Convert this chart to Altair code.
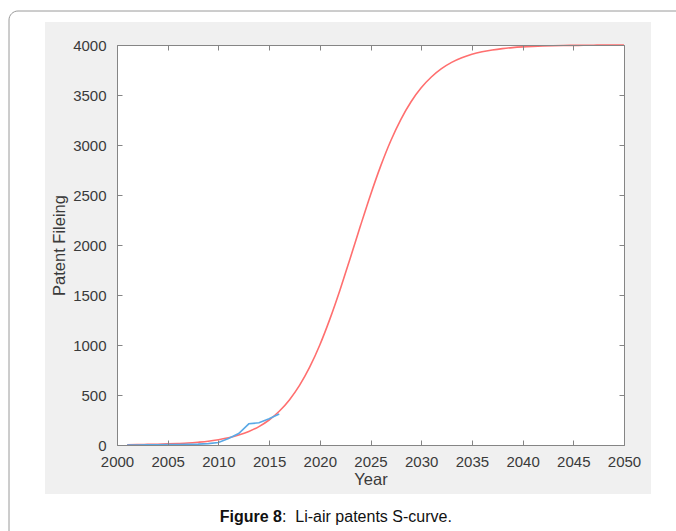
import altair as alt
import pandas as pd

# ---- data ----
years_fit = list(range(2001, 2051))
fit_values = [3, 4, 6, 8, 11, 15, 20, 28, 38, 53,
              72, 99, 135, 184, 250, 337, 451, 596, 778, 1000,
              1261, 1553, 1868, 2189, 2501, 2789, 3043, 3257, 3433, 3572,
              3680, 3763, 3826, 3872, 3907, 3932, 3950, 3964, 3974, 3981,
              3986, 3990, 3993, 3995, 3996, 3997, 3998, 3999, 3999, 3999]

years_obs = list(range(2001, 2017))
obs_values = [0, 0, 2, 3, 4, 5, 7, 9, 14, 25, 65, 115, 212, 222, 262, 310]

x_ticks = list(range(2000, 2051, 5))
y_ticks = list(range(0, 4001, 500))

caption_bold = "Figure 8"
caption_rest = ":\u00a0\u00a0Li-air patents S-curve."

W, H = 507, 400

fit_df = pd.DataFrame({"Year": years_fit, "Patents": fit_values})
obs_df = pd.DataFrame({"Year": years_obs, "Patents": obs_values})
one = pd.DataFrame({"k": [0]})

xscale = alt.Scale(domain=[2000, 2050], nice=False, zero=False)
yscale = alt.Scale(domain=[0, 4000], nice=False)

FONT = "Liberation Sans"
common = dict(grid=False, domainColor="#858585", tickColor="#858585",
              labelFont=FONT, labelFontSize=15, labelColor="#3a3a3a",
              labelFlush=False,
              titleFont=FONT, titleFontSize=16.5, titleColor="#3a3a3a",
              titleFontWeight="normal", domainWidth=1, tickWidth=1, zindex=2)

# decorative grey panel, white plot area and outer frame
frame = alt.Chart(one).mark_rect(fill="white", fillOpacity=0, stroke="#9a9a9a",
                                 strokeWidth=1, cornerRadius=9).encode(
    x=alt.value(-108), x2=alt.value(640), y=alt.value(-34), y2=alt.value(560))
panel = alt.Chart(one).mark_rect(color="#f0f0f0").encode(
    x=alt.value(-72), x2=alt.value(534), y=alt.value(-23), y2=alt.value(449))
plotbg = alt.Chart(one).mark_rect(color="white").encode(
    x=alt.value(0), x2=alt.value(W), y=alt.value(0), y2=alt.value(H))

# main layer with labels
main_x = alt.X("Year:Q", scale=xscale, axis=alt.Axis(
    values=x_ticks, format="d", tickSize=0, labelPadding=9, title="Year",
    titlePadding=2, orient="bottom", **common))
main_y = alt.Y("Patents:Q", scale=yscale, axis=alt.Axis(
    values=y_ticks, format="d", tickSize=0, labelPadding=11,
    title="Patent Fileing", titlePadding=5, orient="left", **common))

red = alt.Chart(fit_df).mark_line(color="#ff6f6f", strokeWidth=1.6,
                                  interpolate="monotone").encode(x=main_x, y=main_y)

blue = alt.Chart(obs_df).mark_line(color="#5aa9e6", strokeWidth=1.6).encode(
    x=alt.X("Year:Q", scale=xscale, axis=None),
    y=alt.Y("Patents:Q", scale=yscale, axis=None))

# inward ticks at bottom and left edges
ticks_bl = alt.Chart(fit_df).mark_line(strokeOpacity=0).encode(
    x=alt.X("Year:Q", scale=xscale, axis=alt.Axis(
        values=x_ticks, labels=False, tickSize=5, domain=False, title=None,
        orient="top", offset=-H, **common)),
    y=alt.Y("Patents:Q", scale=yscale, axis=alt.Axis(
        values=y_ticks, labels=False, tickSize=5, domain=False, title=None,
        orient="right", offset=-W, **common)))

# box edges at top and right with inward ticks
ticks_tr = alt.Chart(fit_df).mark_line(strokeOpacity=0).encode(
    x=alt.X("Year:Q", scale=xscale, axis=alt.Axis(
        values=x_ticks, labels=False, tickSize=5, domain=True, title=None,
        orient="bottom", offset=-H, **common)),
    y=alt.Y("Patents:Q", scale=yscale, axis=alt.Axis(
        values=y_ticks, labels=False, tickSize=5, domain=True, title=None,
        orient="left", offset=-W, **common)))

cap1 = alt.Chart(one).mark_text(text=caption_bold, font=FONT, fontSize=16,
                                fontWeight="bold", align="right",
                                baseline="alphabetic", color="#111111").encode(
    x=alt.value(165), y=alt.value(477))
cap2 = alt.Chart(one).mark_text(text=caption_rest, font=FONT, fontSize=16,
                                align="left", baseline="alphabetic",
                                color="#111111").encode(
    x=alt.value(165), y=alt.value(477))

chart = alt.layer(frame, panel, plotbg, red, blue, ticks_bl, ticks_tr, cap1, cap2).resolve_axis(
    x="independent", y="independent"
).properties(
    width=W, height=H,
    autosize=alt.AutoSizeParams(type="none"),
    padding={"left": 117, "top": 45, "right": 52, "bottom": 86},
    background="white",
).configure_view(strokeWidth=0)

chart.save("out.html", embed_options={"renderer": "svg", "actions": False})
